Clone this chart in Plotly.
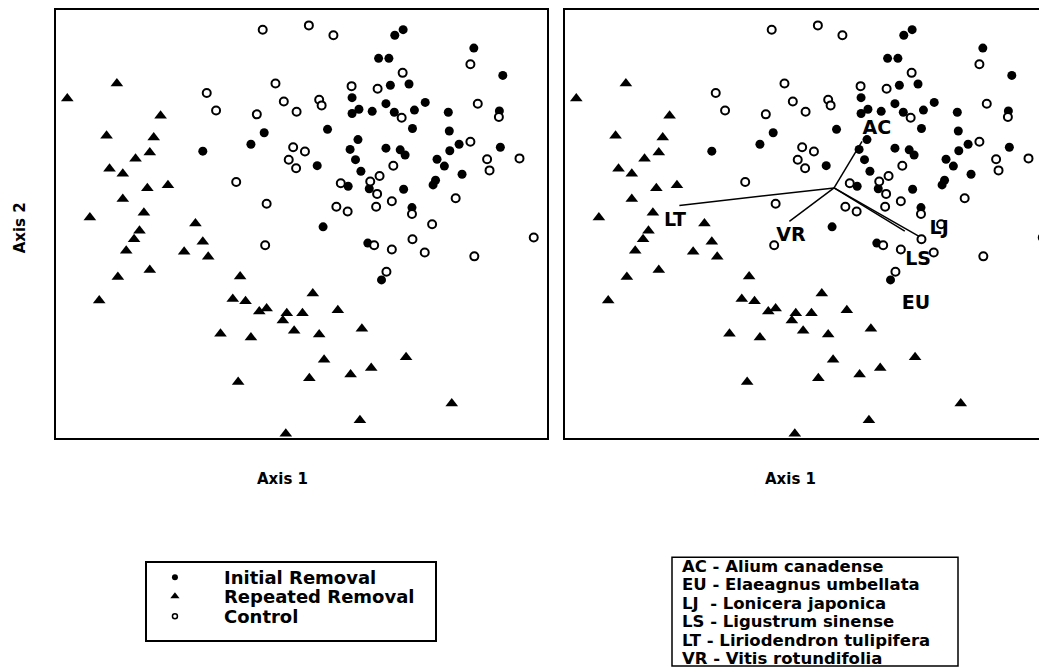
import plotly.graph_objects as go

# ---- Ordination scores (axis units) ----
init_x = [42.4, 39.7, 29.9, 70.7, 69.0, 85.1, 65.7, 67.8, 91.0, 68.1, 71.9, 60.3, 67.2, 75.2,
          61.7, 60.3, 64.4, 68.9, 73.0, 79.9, 90.3, 55.3, 72.6, 80.1, 61.5, 59.9, 67.2, 70.1,
          71.1, 61.0, 53.2, 82.1, 80.2, 90.5, 77.6, 79.1, 82.7, 77.3, 76.8, 62.1, 59.5, 63.8,
          70.8, 72.5, 54.4, 63.5, 66.3]
init_y = [71.3, 68.6, 67.0, 95.4, 94.1, 91.1, 88.7, 88.7, 84.7, 82.4, 82.7, 79.5, 78.1, 78.4,
          76.8, 75.8, 76.3, 76.1, 76.6, 76.1, 76.4, 72.1, 72.3, 71.7, 69.7, 67.4, 67.7, 67.3,
          66.1, 65.0, 63.6, 68.6, 67.1, 67.9, 65.1, 63.5, 61.6, 60.2, 59.1, 62.3, 58.8, 58.2,
          58.1, 53.8, 49.3, 45.5, 36.9]

rep_x = [12.4, 2.3, 21.3, 10.3, 19.9, 19.1, 16.2, 10.9, 13.6, 22.8, 18.6, 13.6, 17.9, 6.9,
         28.4, 17.0, 15.9, 14.3, 29.9, 26.1, 31.0, 19.1, 12.6, 37.5, 8.8, 36.0, 38.6, 41.4,
         42.9, 47.0, 46.2, 50.2, 48.5, 33.5, 39.7, 37.1, 46.8, 52.3, 57.4, 53.6, 62.3, 54.6,
         64.2, 71.3, 51.6, 60.0, 80.6, 61.9]
rep_y = [82.8, 79.3, 75.3, 70.6, 70.2, 66.7, 65.2, 62.9, 61.7, 59.0, 58.3, 55.8, 52.6, 51.5,
         50.1, 48.4, 46.4, 43.7, 45.8, 43.5, 42.3, 39.2, 37.6, 37.7, 32.1, 32.4, 31.9, 29.5,
         30.2, 29.1, 27.4, 29.1, 25.0, 24.3, 23.4, 13.0, 0.9, 33.7, 29.8, 24.1, 25.5, 18.2,
         16.3, 18.8, 13.9, 14.8, 8.0, 4.1]

ctrl_x = [42.1, 51.5, 56.5, 44.7, 30.7, 46.4, 49.0, 32.6, 40.9, 48.3, 47.4, 48.9, 50.7, 36.7,
          42.9, 42.6, 84.4, 70.6, 60.2, 65.5, 53.6, 54.1, 70.4, 85.9, 90.2, 84.4, 87.8, 94.4,
          88.3, 68.7, 65.9, 58.0, 64.0, 65.4, 81.4, 57.1, 59.4, 65.2, 68.4, 72.5, 76.6, 64.8,
          72.6, 68.4, 75.1, 85.2, 97.3, 67.3]
ctrl_y = [95.4, 96.4, 94.1, 82.8, 80.6, 78.6, 76.2, 76.5, 75.6, 67.9, 65.0, 63.0, 66.9, 59.8,
          54.7, 45.0, 87.3, 85.3, 82.2, 81.6, 79.0, 77.7, 74.8, 78.1, 75.0, 69.2, 65.1, 65.3,
          62.5, 63.6, 61.2, 59.5, 59.9, 57.0, 56.0, 54.0, 52.9, 54.0, 55.3, 52.3, 49.9, 45.0,
          46.4, 44.0, 43.3, 42.4, 46.8, 38.8]

# ---- Species vectors (biplot) ----
vec_origin = (54.8, 58.4)
vec_names = ["AC", "LT", "VR", "LS", "LJ"]
vec_end_x = [60.5, 23.3, 45.7, 69.2, 72.2]
vec_end_y = [69.3, 54.3, 50.6, 48.3, 47.0]

label_names = ["AC", "EU", "LJ", "LS", "LT", "VR"]
label_x = [63.5, 71.5, 76.2, 71.9, 22.4, 46.0]
label_y = [72.1, 31.2, 48.8, 41.6, 50.7, 47.2]

species_legend = ["AC - Alium canadense", "EU - Elaeagnus umbellata", "LJ  - Lonicera japonica",
                  "LS - Ligustrum sinense", "LT - Liriodendron tulipifera", "VR - Vitis rotundifolia"]
group_names = ["Initial Removal", "Repeated Removal", "Control"]

# page body has an 8px default margin; size the figure so it fills the window
OFF = 8
W, H = 1047 - OFF, 667 - OFF
FONT = "DejaVu Sans"

def px(v):
    return (v - OFF) / W

def py(v):
    return 1 - (v - OFF) / H

fig = go.Figure()

def add_groups(xa, ya):
    fig.add_trace(go.Scatter(x=init_x, y=init_y, mode="markers", xaxis=xa, yaxis=ya,
                             marker=dict(symbol="circle", size=9, color="black"),
                             showlegend=False, cliponaxis=False))
    fig.add_trace(go.Scatter(x=rep_x, y=rep_y, mode="markers", xaxis=xa, yaxis=ya,
                             marker=dict(symbol="triangle-up", size=11, color="black"),
                             showlegend=False, cliponaxis=False))
    fig.add_trace(go.Scatter(x=ctrl_x, y=ctrl_y, mode="markers", xaxis=xa, yaxis=ya,
                             marker=dict(symbol="circle", size=8, color="white",
                                         line=dict(color="black", width=2)),
                             showlegend=False, cliponaxis=False))

add_groups("x", "y")

# vectors on right panel
vx, vy = [], []
for ex, ey in zip(vec_end_x, vec_end_y):
    vx += [vec_origin[0], ex, None]
    vy += [vec_origin[1], ey, None]
fig.add_trace(go.Scatter(x=vx, y=vy, mode="lines", xaxis="x2", yaxis="y2",
                         line=dict(color="black", width=1.5), showlegend=False))
add_groups("x2", "y2")
fig.add_trace(go.Scatter(x=label_x, y=label_y, mode="text", text=["<b>%s</b>" % n for n in label_names],
                         textfont=dict(family=FONT, size=19, color="black"),
                         xaxis="x2", yaxis="y2", showlegend=False))

# legend markers (custom legend on helper axes)
leg_x = [0.097, 0.097, 0.097]
leg_y = [0.82, 0.57, 0.31]
fig.add_trace(go.Scatter(x=[leg_x[0]], y=[leg_y[0]], mode="markers", xaxis="x3", yaxis="y3",
                         marker=dict(symbol="circle", size=6, color="black"), showlegend=False))
fig.add_trace(go.Scatter(x=[leg_x[1]], y=[leg_y[1]], mode="markers", xaxis="x3", yaxis="y3",
                         marker=dict(symbol="triangle-up", size=8, color="black"), showlegend=False))
fig.add_trace(go.Scatter(x=[leg_x[2]], y=[leg_y[2]], mode="markers", xaxis="x3", yaxis="y3",
                         marker=dict(symbol="circle", size=5, color="white",
                                     line=dict(color="black", width=1.5)), showlegend=False))

annotations = []
for name, yy in zip(group_names, leg_y):
    annotations.append(dict(x=0.26, y=yy, xref="x3", yref="y3", text="<b>%s</b>" % name,
                            showarrow=False, xanchor="left", yanchor="middle",
                            font=dict(family=FONT, size=18, color="black")))
row_y = [566, 584.5, 603, 621.5, 640, 658.5]
for name, ry in zip(species_legend, row_y):
    annotations.append(dict(x=px(680), y=py(ry), xref="paper", yref="paper",
                            text="<b>%s</b>" % name.replace("  ", "&nbsp; "),
                            showarrow=False, xanchor="left", yanchor="middle",
                            font=dict(family=FONT, size=16.5, color="black")))
for ax_x in [282, 790]:
    annotations.append(dict(x=px(ax_x), y=py(478), xref="paper", yref="paper",
                            text="<b>Axis 1</b>", showarrow=False, xanchor="center", yanchor="middle",
                            font=dict(family=FONT, size=15, color="black")))
annotations.append(dict(x=px(20), y=py(227), xref="paper", yref="paper", text="<b>Axis 2</b>",
                        showarrow=False, textangle=-90, xanchor="center", yanchor="middle",
                        font=dict(family=FONT, size=15, color="black")))

shapes = [dict(type="rect", xref="paper", yref="paper", x0=px(672), x1=px(958),
               y0=py(666), y1=py(557), line=dict(color="black", width=1.5))]

common = dict(showgrid=False, zeroline=False, showticklabels=False, ticks="",
              linecolor="black", linewidth=2, showline=True)
y_dom = [py(437), py(8)]

fig.update_layout(
    width=W, height=H, margin=dict(l=0, r=0, t=0, b=0),
    paper_bgcolor="white", plot_bgcolor="white", showlegend=False,
    xaxis=dict(domain=[px(56), px(547)], range=[0, 100], mirror=True, **common),
    yaxis=dict(domain=y_dom, range=[0, 100], mirror=True, **common),
    xaxis2=dict(domain=[px(565), 1.0], range=[0, 482 / 4.91], mirror=True, anchor="y2", **common),
    yaxis2=dict(domain=y_dom, range=[0, 100], mirror=False, anchor="x2", **common),
    xaxis3=dict(domain=[px(147), px(435)], range=[0, 1], anchor="y3", showgrid=False, zeroline=False,
                showticklabels=False, ticks="", showline=True, mirror=True, linecolor="black", linewidth=1.5),
    yaxis3=dict(domain=[py(640), py(563)], range=[0, 1], anchor="x3", showgrid=False, zeroline=False,
                showticklabels=False, ticks="", showline=True, mirror=True, linecolor="black", linewidth=1.5),
    annotations=annotations, shapes=shapes,
)

fig.write_html("out.html")
